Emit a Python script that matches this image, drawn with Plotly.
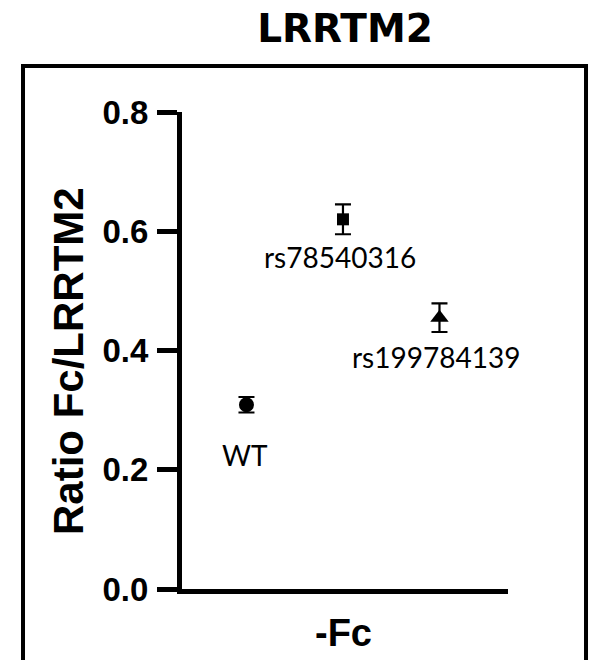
import plotly.graph_objects as go

# ---- data ----
groups = ["WT", "rs78540316", "rs199784139"]
positions = [1, 2, 3]
ratio_mean = [0.309, 0.620, 0.455]
ratio_err = [0.013, 0.025, 0.024]
marker_symbols = ["circle", "square", "triangle-up"]
marker_sizes = [15, 12, 16]
y_ticks = [0.0, 0.2, 0.4, 0.6, 0.8]
y_ticklabels = ["0.0", "0.2", "0.4", "0.6", "0.8"]
title_text = "LRRTM2"
y_title = "Ratio Fc/LRRTM2"
x_title = "-Fc"

label_shift_y = [-50, -38, -39]
label_shift_x = [-1, -3, -3]

fig = go.Figure()
for i in range(len(groups)):
    fig.add_trace(go.Scatter(
        x=[positions[i]], y=[ratio_mean[i]],
        mode="markers",
        marker=dict(symbol=marker_symbols[i], size=marker_sizes[i], color="black"),
        error_y=dict(type="data", array=[ratio_err[i]], visible=True,
                     color="black", thickness=2.2, width=8),
        showlegend=False,
    ))
    fig.add_annotation(
        x=positions[i], y=ratio_mean[i], xref="x", yref="y",
        text=groups[i], showarrow=False,
        xshift=label_shift_x[i], yshift=label_shift_y[i],
        font=dict(family="Lato, Liberation Sans, Arial", size=28, color="black"),
    )

axis_font = dict(family="Liberation Sans, Arial", size=33, color="black", weight="bold")

fig.update_layout(
    width=592, height=660,
    margin=dict(l=182, r=84, t=112, b=71),
    paper_bgcolor="white", plot_bgcolor="white",
    title=dict(text=title_text, x=0.5, xref="paper", y=1 - 28 / 660, yref="container",
               xanchor="center", yanchor="middle",
               font=dict(family="DejaVu Sans, Liberation Sans, Arial", size=39, color="black", weight="bold")),
    xaxis=dict(range=[0.332, 3.71], showgrid=False, zeroline=False,
               showline=True, linecolor="black", linewidth=5,
               ticks="", showticklabels=False, fixedrange=True),
    yaxis=dict(range=[0, 0.8], showgrid=False, zeroline=False,
               showline=True, linecolor="black", linewidth=5,
               ticks="outside", ticklen=20, tickwidth=5, tickcolor="black",
               tickvals=y_ticks, ticktext=y_ticklabels, tickfont=axis_font,
               ticklabelstandoff=2, fixedrange=True),
    hovermode=False,
)

# axis titles
fig.add_annotation(x=-0.3466, y=0.478, xref="paper", yref="paper", text=y_title,
                   textangle=-90, showarrow=False, xanchor="center", yanchor="middle",
                   font=dict(family="Liberation Sans, Arial", size=42, color="black", weight="bold"))
fig.add_annotation(x=0.494, y=-0.092, xref="paper", yref="paper", text=x_title,
                   showarrow=False, xanchor="center", yanchor="middle",
                   font=dict(family="Liberation Sans, Arial", size=38, color="black", weight="bold"))

# outer frame
fig.add_shape(type="rect", xref="paper", yref="paper",
              x0=-0.4877, x1=1.2393, y0=-0.17, y1=1.0964,
              line=dict(color="black", width=4), fillcolor="rgba(0,0,0,0)", layer="below")

fig.write_html(
    "out.html",
    config={"displayModeBar": False},
    post_script="document.body.style.margin='0';document.body.style.overflow='hidden';",
)
